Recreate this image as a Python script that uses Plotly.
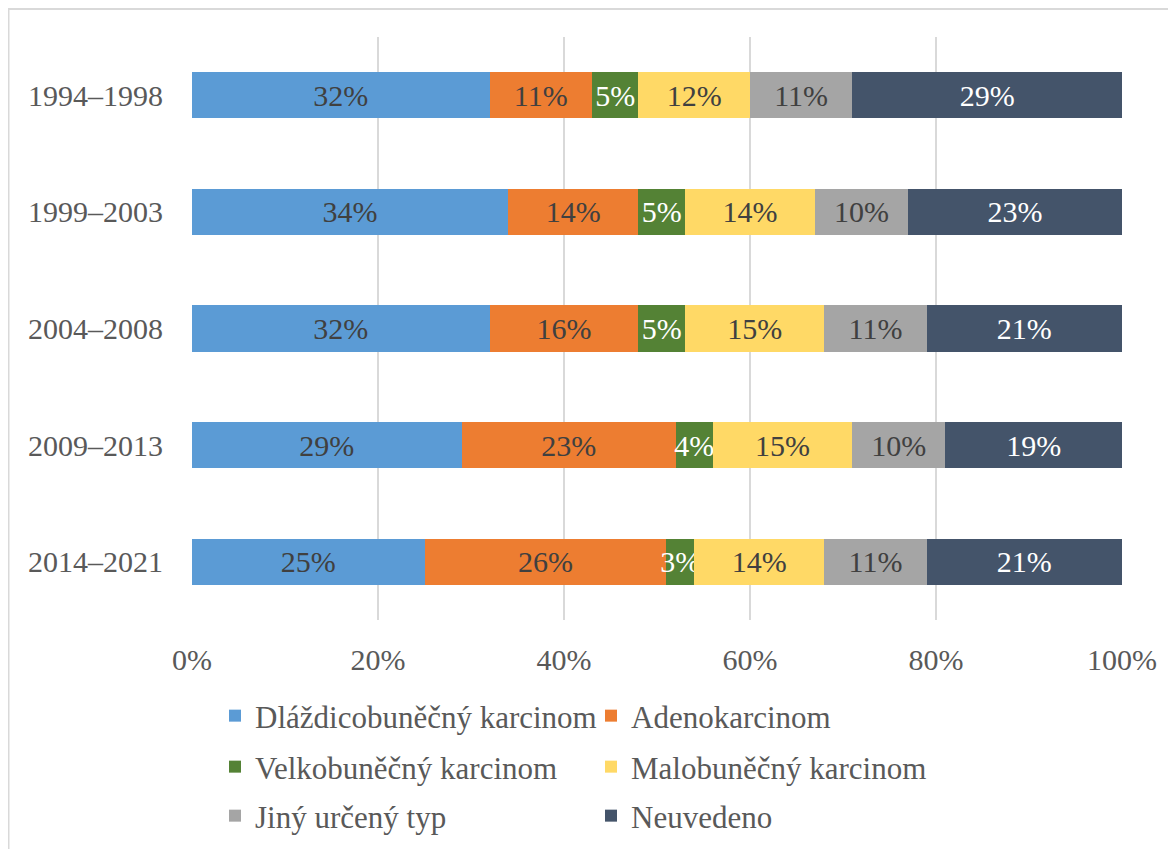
import plotly.graph_objects as go

periods = ["1994–1998", "1999–2003", "2004–2008", "2009–2013", "2014–2021"]
series_names = ["Dláždicobuněčný karcinom", "Adenokarcinom", "Velkobuněčný karcinom",
                "Malobuněčný karcinom", "Jiný určený typ", "Neuvedeno"]
dlazdicobunecny = [32, 34, 32, 29, 25]
adenokarcinom = [11, 14, 16, 23, 26]
velkobunecny = [5, 5, 5, 4, 3]
malobunecny = [12, 14, 15, 15, 14]
jiny = [11, 10, 11, 10, 11]
neuvedeno = [29, 23, 21, 19, 21]
x_ticks = [0, 20, 40, 60, 80, 100]
x_tick_labels = ["0%", "20%", "40%", "60%", "80%", "100%"]

values = [dlazdicobunecny, adenokarcinom, velkobunecny, malobunecny, jiny, neuvedeno]
colors = ["#5B9BD5", "#ED7D31", "#548235", "#FFD966", "#A5A5A5", "#44546A"]
label_colors = ["#404040", "#404040", "#FFFFFF", "#404040", "#404040", "#FFFFFF"]
legend_ids = ["legend", "legend", "legend2", "legend2", "legend3", "legend3"]

FONT = "Liberation Serif, Times New Roman, serif"

fig = go.Figure()
for name, vals, col, lcol, lg in zip(series_names, values, colors, label_colors, legend_ids):
    fig.add_trace(go.Bar(
        y=periods, x=vals, name=name, orientation="h",
        marker=dict(color=col, line=dict(width=0)),
        text=[f"{v}%" for v in vals],
        textposition="inside", insidetextanchor="middle",
        textangle=0, constraintext="none",
        textfont=dict(family=FONT, size=30, color=lcol),
        hoverinfo="skip", legend=lg,
    ))

# page is offset by the 8px body margin
L, R, T, B = 184, 62, 29, 237
W, H = 1176, 849
pw, ph = W - L - R, H - T - B

def px_x(px):
    return (px - L) / pw

def px_y(py):
    return (H - B - py) / ph

def legend_row(fy):
    return dict(
        orientation="h", x=px_x(207), xanchor="left", y=px_y(fy), yanchor="middle",
        entrywidth=331, font=dict(family=FONT, size=31, color="#595959"),
        traceorder="normal", bgcolor="rgba(0,0,0,0)",
    )

fig.update_layout(
    width=W, height=H,
    barmode="stack", bargap=0.605,
    margin=dict(l=L, r=R, t=T, b=B),
    paper_bgcolor="white", plot_bgcolor="white",
    font=dict(family=FONT, size=30, color="#595959"),
    showlegend=True,
    legend=legend_row(708),
    legend2=legend_row(759),
    legend3=legend_row(808),
    shapes=[dict(
        type="rect", xref="paper", yref="paper",
        x0=px_x(0.5), x1=px_x(1190), y0=px_y(860), y1=px_y(1),
        line=dict(color="#D9D9D9", width=2), fillcolor="rgba(0,0,0,0)", layer="below",
    )],
)
fig.update_xaxes(
    range=[0, 100], tickvals=x_ticks, ticktext=x_tick_labels,
    showgrid=True, gridcolor="#D9D9D9", gridwidth=1.5,
    zeroline=False, showline=False, ticks="", ticklabelstandoff=19,
    tickfont=dict(family=FONT, size=30, color="#595959"), fixedrange=True,
)
fig.update_yaxes(
    categoryorder="array", categoryarray=periods, autorange="reversed",
    showgrid=False, zeroline=False, showline=False, ticks="", ticklabelstandoff=28,
    tickfont=dict(family=FONT, size=30, color="#595959"), fixedrange=True,
)

fig.write_html("out.html")
